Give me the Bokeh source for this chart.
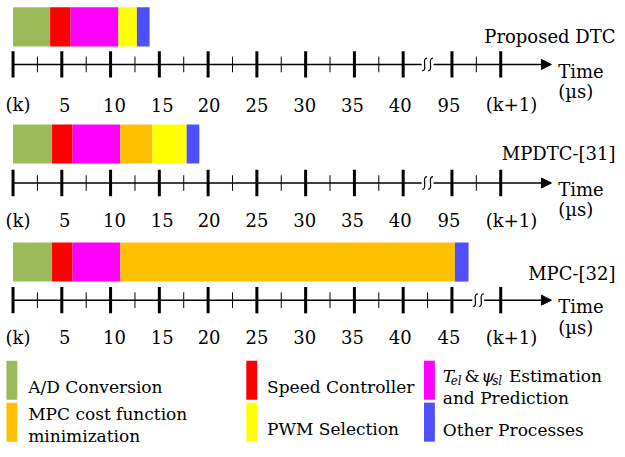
from bokeh.plotting import figure
from bokeh.models import Range1d, ColumnDataSource, Arrow, NormalHead
from bokeh.core.properties import value
from bokeh.embed import file_html
from bokeh.resources import INLINE

# ---------------- data ----------------
processes = ["A/D Conversion", "Speed Controller", "Estimation and Prediction",
             "MPC cost function minimization", "PWM Selection", "Other Processes"]
colors = ["#9BBB59", "#FF0000", "#FF00FF", "#FFC000", "#FFFF00", "#4F4FFF"]
methods = ["Proposed DTC", "MPDTC-[31]", "MPC-[32]"]
dur_proposed = [3.8, 2.1, 4.9, 0.0, 1.9, 1.3]
dur_mpdtc = [4.0, 2.1, 4.9, 3.3, 3.5, 1.3]
dur_mpc = [4.0, 2.1, 4.9, 34.3, 0.0, 1.4]

tick_pos = [0, 5, 10, 15, 20, 25, 30, 35, 40, 45, 50]
labels_dtc = ["(k)", "5", "10", "15", "20", "25", "30", "35", "40", "95", "(k+1)"]
labels_mpc = ["(k)", "5", "10", "15", "20", "25", "30", "35", "40", "45", "(k+1)"]
minor_dtc = [2.5, 7.5, 12.5, 17.5, 22.5, 27.5, 32.5, 37.5, 47.5]
minor_mpc = [2.5, 7.5, 12.5, 17.5, 22.5, 27.5, 32.5, 37.5, 42.5]
break_dtc = 42.5
break_mpc = 47.7

# ---------------- layout (reference pixel units) ----------------
PX0, PX_PER_US = 12.7, 9.88
REF_X = (0, 625)
REF_Y = (460, 0)
AXIS_END = 55.2
FONT = value("DejaVu Serif")
FS = "18px"
FS_LEG = "17px"
label_dx = [5, 3, 4, 3, 1, 0, -1, -2, -3, -3, 11]

panels = [
    dict(dur=dur_proposed, labels=labels_dtc, minor=minor_dtc, brk=break_dtc,
         bar_y=27, axis_y=65.5, lab_base=107, name_base=37),
    dict(dur=dur_mpdtc, labels=labels_dtc, minor=minor_dtc, brk=break_dtc,
         bar_y=147, axis_y=187, lab_base=225, name_base=157),
    dict(dur=dur_mpc, labels=labels_mpc, minor=minor_mpc, brk=break_mpc,
         bar_y=268, axis_y=307, lab_base=345, name_base=280),
]


def us(px):
    return (px - PX0) / PX_PER_US


p = figure(width=617, height=449, x_range=Range1d(us(REF_X[0]), us(REF_X[1])),
           y_range=Range1d(*REF_Y), output_backend="svg", toolbar_location=None,
           min_border=0)
p.extra_x_ranges = {"px": Range1d(*REF_X)}
p.axis.visible = False
p.grid.visible = False
p.outline_line_color = None
p.background_fill_color = "white"

for name, pan in zip(methods, panels):
    # stacked bars from the duration lists
    lefts, rights, cols = [], [], []
    acc = 0.0
    for d, c in zip(pan["dur"], colors):
        if d > 0:
            lefts.append(acc)
            rights.append(acc + d)
            cols.append(c)
        acc += d
    src = ColumnDataSource(dict(left=lefts, right=rights, color=cols,
                                y=[pan["bar_y"]] * len(lefts)))
    p.hbar(y="y", left="left", right="right", height=40, fill_color="color",
           line_color=None, source=src)

    ay = pan["axis_y"]
    brk = pan["brk"]
    gap = 6 / PX_PER_US
    # time axis line with arrow, broken at the break mark
    p.segment(x0=[0], y0=[ay], x1=[brk - gap], y1=[ay], line_color="black", line_width=1.5)
    p.add_layout(Arrow(end=NormalHead(size=10, fill_color="black", line_color="black"),
                       x_start=brk + gap, y_start=ay, x_end=AXIS_END, y_end=ay,
                       line_color="black", line_width=1.5))
    # break symbol: two small S-curves
    hw = 2.5 / PX_PER_US
    for off in (-3, 3):
        cx = brk + off / PX_PER_US
        p.bezier(x0=[cx + hw], y0=[ay - 6.5], x1=[cx - hw], y1=[ay + 6.5],
                 cx0=[cx - 3.5 / PX_PER_US], cy0=[ay - 6.5], cx1=[cx + 3.5 / PX_PER_US], cy1=[ay + 6.5],
                 line_color="black", line_width=1.2)
    # major and minor ticks
    p.segment(x0=tick_pos, y0=[ay - 13.5] * len(tick_pos), x1=tick_pos,
              y1=[ay + 13.5] * len(tick_pos), line_color="black", line_width=3)
    p.segment(x0=pan["minor"], y0=[ay - 8] * len(pan["minor"]), x1=pan["minor"],
              y1=[ay + 8] * len(pan["minor"]), line_color="black", line_width=1)
    # tick labels
    lx = [t + dx / PX_PER_US for t, dx in zip(tick_pos, label_dx)]
    p.text(x=lx, y=[pan["lab_base"]] * len(lx), text=pan["labels"], text_font=FONT,
           text_font_size=FS, text_align="center", text_baseline="alphabetic",
           text_color="black")
    # method name
    p.text(x=[623], y=[pan["name_base"]], text=[name], x_range_name="px",
           text_font=FONT, text_font_size=FS, text_align="right",
           text_baseline="alphabetic", text_color="black")
    # axis title
    p.text(x=[565, 565], y=[ay + 7, ay + 27.5], text=["Time", "(\u00b5s)"],
           x_range_name="px", text_font=FONT, text_font_size=FS, text_align="left",
           text_baseline="alphabetic", text_color="black")

# ---------------- legend ----------------
# order: A/D, Speed, Estimation (row 1); MPC, PWM, Other (row 2)
sw_left = [6, 249, 429, 6, 249, 429]
sw_top = [369, 369, 369, 412, 412, 412]
leg_idx = [0, 1, 2, 3, 4, 5]
sw_src = ColumnDataSource(dict(
    left=sw_left, right=[l + 11 for l in sw_left], top=sw_top,
    bottom=[t + 40 for t in sw_top], color=[colors[i] for i in leg_idx]))
p.quad(left="left", right="right", top="top", bottom="bottom", fill_color="color",
       line_color=None, source=sw_src, x_range_name="px")

plain_x = [28, 270, 28, 28, 270, 448]
plain_y = [396, 396, 424, 446, 439, 440]
plain_t = [processes[0], processes[1], "MPC cost function", "minimization",
           processes[4], processes[5]]
p.text(x=plain_x, y=plain_y, text=plain_t, x_range_name="px", text_font=FONT,
       text_font_size=FS_LEG, text_align="left", text_baseline="alphabetic",
       text_color="black")

# T_el & psi_sl Estimation / and Prediction
p.text(x=[448, 487], y=[385, 385], text=["T", "\u03c8"], x_range_name="px",
       text_font=FONT, text_font_size=FS_LEG, text_font_style="italic",
       text_align="left", text_baseline="alphabetic", text_color="black")
p.text(x=[456, 498], y=[390, 390], text=["el", "sl"], x_range_name="px",
       text_font=FONT, text_font_size="12px", text_font_style="italic",
       text_align="left", text_baseline="alphabetic", text_color="black")
p.text(x=[470, 515, 448], y=[385, 385, 407], text=["&", "Estimation", "and Prediction"],
       x_range_name="px", text_font=FONT, text_font_size=FS_LEG, text_align="left",
       text_baseline="alphabetic", text_color="black")

open("out.html", "w").write(file_html(p, INLINE))
